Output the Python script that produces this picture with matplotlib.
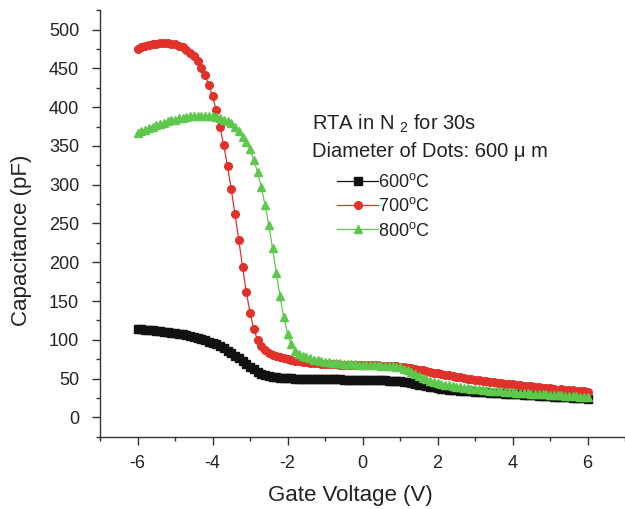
import numpy as np
import matplotlib
matplotlib.use("Agg")
import matplotlib.pyplot as plt

plt.rcParams['font.family'] = ['Liberation Sans', 'DejaVu Sans']
plt.rcParams['mathtext.fontset'] = 'custom'
plt.rcParams['mathtext.rm'] = 'Liberation Sans'
plt.rcParams['mathtext.it'] = 'Liberation Sans'
plt.rcParams['axes.unicode_minus'] = False

# Gate voltage, -6 V to 6 V in 0.1 V steps
voltage = np.round(np.arange(-60, 61) / 10.0, 1)

cap_600 = [
    114, 113.5, 113, 112.5, 112, 111.5, 111, 110.5, 110, 109,
    108.5, 108, 107, 106, 105, 104, 102.5, 101, 99.5, 97.5,
    96, 94, 91.5, 89, 86, 83, 79.5, 76, 72.5, 69,
    65.5, 62, 59, 56.5, 54.5, 53, 52, 51.5, 51, 50.5,
    50.3, 50.2, 50, 49.9, 49.8, 49.7, 49.6, 49.5, 49.4, 49.3,
    49.2, 49.1, 49, 48.9, 48.8, 48.7, 48.6, 48.5, 48.4, 48.3,
    48.2, 48.1, 48, 47.9, 47.8, 47.7, 47.5, 47.3, 47.1, 46.8,
    46.4, 45.8, 45, 44.1, 43.2, 42.3, 41.4, 40.5, 39.6, 38.7,
    37.8, 37, 36.3, 35.7, 35.2, 34.8, 34.4, 34.0, 33.7, 33.4,
    33.1, 32.8, 32.5, 32.2, 31.9, 31.6, 31.3, 31.0, 30.7, 30.4,
    30.1, 29.8, 29.5, 29.2, 28.9, 28.6, 28.3, 28.0, 27.7, 27.4,
    27.1, 26.8, 26.5, 26.2, 25.9, 25.6, 25.3, 25.0, 24.7, 24.4,
    24.1,
]

cap_700 = [
    475, 477, 479, 480, 481, 482, 483, 483, 483, 482,
    481, 479, 477, 474, 470, 466, 459, 451, 441, 429,
    414, 396, 374, 351, 324, 294, 262, 229, 194, 162,
    135, 114, 100, 92, 87, 83.5, 81, 79, 77.3, 76,
    74.8, 73.8, 72.9, 72.1, 71.4, 70.8, 70.3, 69.9, 69.5, 69.2,
    68.9, 68.6, 68.4, 68.2, 68.0, 67.8, 67.7, 67.6, 67.5, 67.4,
    67.3, 67.2, 67.1, 67.0, 66.9, 66.8, 66.6, 66.4, 66.1, 65.8,
    65.4, 64.8, 64.1, 63.3, 62.4, 61.5, 60.5, 59.5, 58.5, 57.5,
    56.6, 55.7, 54.8, 54.0, 53.2, 52.4, 51.6, 50.8, 50.0, 49.3,
    48.6, 47.9, 47.2, 46.5, 45.9, 45.3, 44.7, 44.1, 43.5, 42.9,
    42.4, 41.9, 41.4, 40.9, 40.4, 39.9, 39.4, 38.9, 38.4, 37.9,
    37.4, 36.9, 33.5, 36.2, 35.8, 35.4, 35.0, 34.6, 34.2, 33.8,
    32.5,
]

cap_800 = [
    367, 369, 371, 373, 375, 377, 378.5, 380, 381.5, 383,
    384, 385.5, 386.5, 387.5, 388, 388.5, 389, 389, 389, 388.5,
    388, 387, 386, 384, 382, 379, 375, 369, 362, 355,
    346, 332, 316, 297, 274, 248, 218, 186, 156, 129,
    108, 94, 86, 82, 79.5, 77.5, 76, 74.5, 73.5, 72.5,
    71.5, 71, 70.5, 70, 69.6, 69.2, 68.9, 68.6, 68.3, 68,
    67.8, 67.6, 67.4, 67.2, 67, 66.8, 66.6, 66.4, 66.1, 65.5,
    64.5, 62.8, 60.5, 58, 55.5, 53, 51, 49, 47.3, 45.8,
    44.5, 43.3, 42.2, 41.2, 40.3, 39.5, 38.8, 38.2, 37.6, 37.0,
    36.5, 36.0, 35.5, 35.0, 34.6, 34.2, 33.8, 33.4, 33.0, 32.6,
    32.2, 31.9, 31.6, 31.3, 31.0, 30.7, 30.4, 30.1, 29.8, 29.5,
    29.2, 28.9, 28.6, 28.3, 28.0, 27.7, 27.4, 27.1, 26.8, 26.5,
    26.0,
]

labels = ['600$^{\\rm o}$C', '700$^{\\rm o}$C', '800$^{\\rm o}$C']
colors = ['#111111', '#e0312a', '#5dc84c']
markers = ['s', 'o', '^']
msizes = [5.5, 5.5, 6.0]

fig = plt.figure(figsize=(6.25, 5.09), dpi=100)
ax = fig.add_axes([0.16, 0.142, 0.84, 0.838])

series = [cap_600, cap_700, cap_800]
handles = []
for vals, lab, c, m, ms in zip(series, labels, colors, markers, msizes):
    h, = ax.plot(voltage, vals, color=c, marker=m, markersize=ms,
                 markeredgecolor=c, markerfacecolor=c, linewidth=0.9,
                 label=lab)
    handles.append(h)

ax.set_xlim(-7, 7)
ax.set_ylim(-25, 525)
ax.set_xticks([-6, -4, -2, 0, 2, 4, 6])
ax.set_xticks(np.arange(-7, 8, 1), minor=True)
ax.set_yticks(np.arange(0, 501, 50))
ax.set_yticks(np.arange(-25, 526, 25), minor=True)

for s in ['top', 'right']:
    ax.spines[s].set_visible(False)
for s in ['left', 'bottom']:
    ax.spines[s].set_color('#333333')
    ax.spines[s].set_linewidth(1.0)

ax.tick_params(which='major', direction='out', length=6, width=1.0,
               color='#333333', labelsize=13, labelcolor='#222222')
ax.tick_params(axis='y', which='major', pad=9)
ax.tick_params(axis='x', which='major', pad=7)
ax.tick_params(which='minor', direction='out', length=3, width=1.0,
               color='#333333')

ax.set_xlabel('Gate Voltage (V)', fontsize=16, color='#222222', va='center')
ax.set_ylabel('Capacitance (pF)', fontsize=16, color='#222222', va='center')
ax.xaxis.set_label_coords(0.476, -0.137)
ax.yaxis.set_label_coords(-0.149, 0.461)

ax.text(0.403, 0.719, 'RTA in N $_2$ for 30s', transform=ax.transAxes,
        fontsize=14.5, color='#222222', va='baseline', ha='left')
ax.text(0.403, 0.655, 'Diameter of Dots: 600 \u03bc m', transform=ax.transAxes,
        fontsize=14.5, color='#222222', va='baseline', ha='left')

leg = ax.legend(handles=handles, loc='upper left',
                bbox_to_anchor=(0.451, 0.618), frameon=False, fontsize=13,
                numpoints=1, handlelength=2.3, handletextpad=0.0,
                labelspacing=0.35, borderaxespad=0, borderpad=0)
for t in leg.get_texts():
    t.set_color('#222222')

fig.savefig('out.png', dpi=100)
